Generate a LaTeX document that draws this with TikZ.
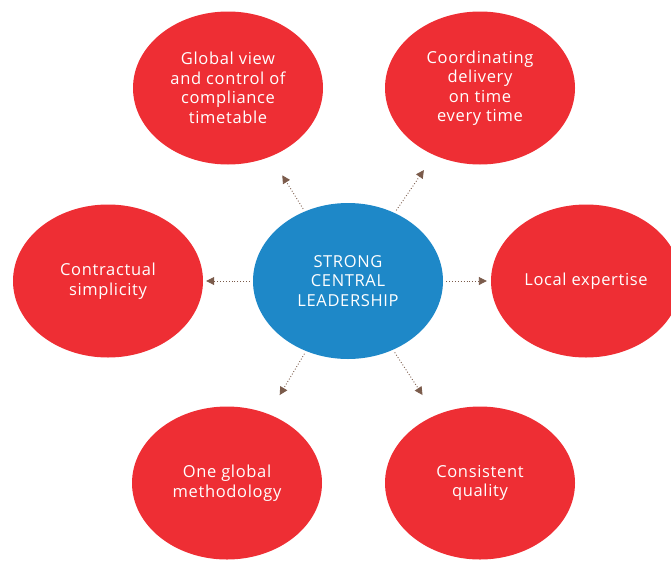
\documentclass[tikz,border=0pt]{standalone}
\usepackage{fontspec}
\setmainfont{Open Sans}[LetterSpace=4]
\usetikzlibrary{arrows.meta, shapes.geometric}
\definecolor{bubblered}{HTML}{EE2E34}
\definecolor{hubblue}{HTML}{1E88C8}
\definecolor{linkbrown}{HTML}{7B5B4B}
\begin{document}
\begin{tikzpicture}[x=1pt, y=-1pt, font=\fontsize{16.5}{19.5}\selectfont,
  bubble/.style={ellipse, fill=bubblered, text=white, inner sep=0pt,
    minimum width=190pt, minimum height=153pt, align=center},
  hub/.style={ellipse, fill=hubblue, text=white, inner sep=0pt,
    minimum width=190pt, minimum height=156pt, align=center},
  link/.style={draw=linkbrown, line width=0.9pt, dotted,
    -{Triangle[length=8pt, width=8pt]}, shorten <=3pt}]
\useasboundingbox (0,0) rectangle (671,560);

\node [hub] (lead) at (348, 281) {STRONG\\CENTRAL\\LEADERSHIP};

\node [bubble] (view) at (228, 88) {Global view\\and control of\\compliance\\timetable};
\node [bubble] (deliv) at (480, 88) {Coordinating\\delivery\\on time\\every time};
\node [bubble] (contr) at (108, 281) {Contractual\\simplicity};
\node [bubble] (local) at (586, 281) {Local expertise};
\node [bubble] (method) at (227, 483) {One global\\methodology};
\node [bubble] (qual) at (480, 483) {Consistent\\quality};

\draw [link, shorten >=22pt] (lead) -- (view);
\draw [link, shorten >=18pt] (lead) -- (deliv);
\draw [link, shorten >=3pt] (lead) -- (contr);
\draw [link, shorten >=4pt] (lead) -- (local);
\draw [link, shorten >=22pt] (lead) -- (method);
\draw [link, shorten >=24pt] (lead) -- (qual);
\end{tikzpicture}
\end{document}
